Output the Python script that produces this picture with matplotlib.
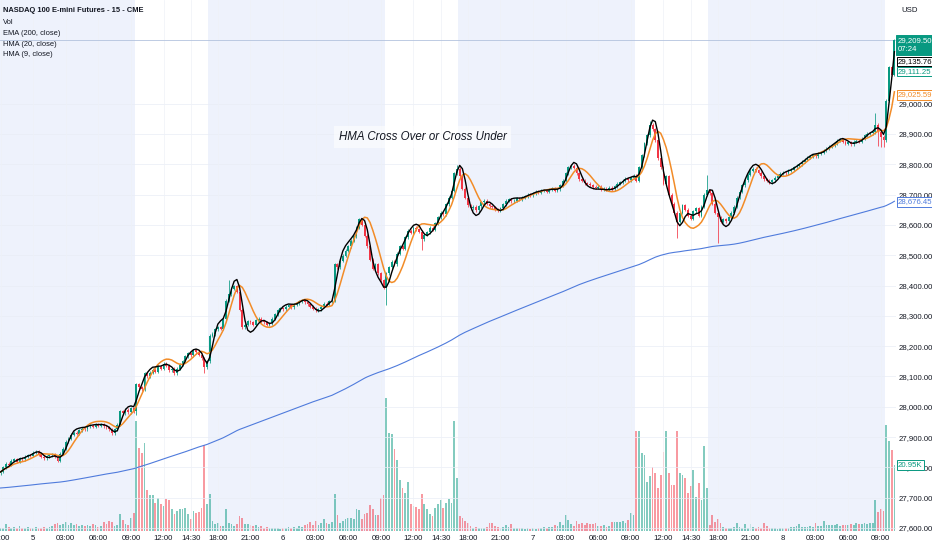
import numpy as np
import matplotlib
matplotlib.use("Agg")
import matplotlib.pyplot as plt
import matplotlib.transforms as mtransforms

# ---------------- data ----------------
open_first = 27780.0
closes = [
    27785, 27800, 27812, 27808, 27822, 27826, 27818, 27830, 27826, 27835,
    27840, 27838, 27848, 27852, 27843, 27835, 27830, 27836, 27840, 27843,
    27835, 27822, 27845, 27862, 27885, 27895, 27908, 27915, 27911, 27922,
    27928, 27925, 27935, 27938, 27934, 27940, 27937, 27942, 27936, 27932,
    27925, 27912, 27925, 27940, 27985, 27978, 27990, 27982, 27995, 27985,
    28075, 28065, 28058, 28110, 28100, 28112, 28122, 28115, 28132, 28125,
    28142, 28135, 28120, 28126, 28110, 28125, 28138, 28150, 28166, 28176,
    28170, 28186, 28180, 28172, 28160, 28130, 28150, 28235, 28240, 28255,
    28262, 28258, 28290, 28350, 28372, 28390, 28398, 28380, 28320, 28262,
    28270, 28282, 28278, 28270, 28285, 28290, 28282, 28278, 28270, 28275,
    28290, 28305, 28318, 28325, 28322, 28330, 28335, 28328, 28336, 28342,
    28348, 28352, 28345, 28338, 28330, 28324, 28318, 28322, 28330, 28340,
    28336, 28348, 28350, 28470, 28460, 28482, 28498, 28515, 28530, 28548,
    28562, 28590, 28618, 28600, 28565, 28530, 28485, 28455, 28470, 28440,
    28418, 28392, 28440, 28460, 28478, 28470, 28505, 28530, 28522, 28560,
    28580, 28574, 28590, 28586, 28578, 28552, 28568, 28575, 28590, 28584,
    28605, 28625, 28640, 28635, 28668, 28690, 28712, 28770, 28785, 28760,
    28720, 28690, 28665, 28655, 28660, 28648, 28662, 28675, 28680, 28670,
    28662, 28658, 28652, 28648, 28655, 28668, 28680, 28685, 28678, 28680,
    28688, 28684, 28690, 28695, 28700, 28697, 28705, 28710, 28706, 28712,
    28715, 28710, 28716, 28720, 28712, 28718, 28730, 28745, 28770, 28790,
    28795, 28788, 28770, 28750, 28745, 28738, 28735, 28730, 28725, 28722,
    28726, 28718, 28720, 28716, 28722, 28718, 28728, 28735, 28740, 28745,
    28752, 28748, 28756, 28762, 28745, 28790, 28830, 28870, 28895, 28930,
    28915, 28880, 28820, 28790, 28735, 28760, 28700, 28670, 28640, 28610,
    28640, 28665, 28650, 28630, 28620, 28645, 28655, 28630, 28660, 28700,
    28715, 28705, 28670, 28640, 28625, 28610, 28618, 28612, 28625, 28640,
    28660, 28690, 28710, 28730, 28748, 28765, 28778, 28785, 28780, 28772,
    28760, 28750, 28745, 28740, 28748, 28755, 28762, 28768, 28772, 28770,
    28778, 28782, 28790, 28795, 28800, 28808, 28815, 28822, 28826, 28830,
    28826, 28834, 28838, 28845, 28852, 28858, 28862, 28870, 28878, 28882,
    28875, 28868, 28872, 28866, 28874, 28878, 28875, 28885, 28895, 28900,
    28902, 28905, 28930, 28905, 28890, 28880, 29010, 29120, 29095, 29209.5,
]
volumes_k = [
    1.0, 0.8, 2.1, 1.2, 0.9, 1.4, 1.0, 1.7, 1.1, 0.9,
    1.3, 0.8, 1.0, 1.2, 0.9, 1.1, 1.4, 1.0, 1.2, 1.5,
    2.2, 2.6, 1.8, 2.3, 2.7, 2.0, 2.4, 1.9, 2.2, 1.6,
    2.0, 1.7, 1.9, 1.5, 2.1, 1.8, 1.4, 1.6, 3.0, 2.2,
    3.2, 2.8, 1.6, 2.0, 5.4, 3.6, 2.3, 1.9, 4.2, 5.8,
    34.8, 26.4, 24.8, 28.0, 12.9, 11.3, 11.3, 9.0, 10.6, 8.7,
    8.0, 10.3, 9.7, 7.1, 5.5, 6.4, 7.1, 7.1, 7.4, 5.5,
    3.9, 6.4, 5.8, 6.1, 7.4, 27.4, 8.7, 11.9, 3.2, 2.3,
    2.6, 1.6, 1.6, 7.1, 2.6, 2.3, 1.6, 2.3, 4.8, 4.2,
    2.3, 2.3, 1.8, 1.5, 1.9, 1.2, 1.6, 1.0, 1.3, 0.9,
    1.1, 0.8, 1.0, 0.7, 0.9, 0.8, 1.2, 1.0, 1.4, 1.1,
    1.6, 1.3, 1.8, 2.2, 2.9, 1.9, 3.2, 2.0, 2.4, 3.9,
    2.6, 2.2, 3.0, 11.9, 5.2, 2.6, 3.2, 3.9, 4.2, 4.2,
    3.9, 7.1, 6.8, 3.9, 5.5, 5.8, 8.4, 7.1, 5.2, 5.2,
    10.6, 11.3, 42.2, 31.2, 30.9, 26.1, 22.5, 16.1, 13.8, 12.2,
    15.5, 8.7, 8.0, 7.7, 7.1, 11.9, 8.7, 7.1, 5.5, 4.8,
    7.4, 8.7, 10.0, 7.4, 9.0, 10.3, 9.0, 34.8, 16.7, 4.8,
    4.2, 3.2, 2.6, 1.6, 1.0, 1.2, 0.9, 1.1, 0.8, 1.3,
    2.6, 2.4, 1.5, 1.2, 1.0, 1.4, 1.9, 1.2, 2.3, 1.1,
    0.9, 1.0, 0.8, 0.7, 0.9, 0.6, 0.8, 0.7, 1.0, 0.9,
    1.2, 1.0, 1.4, 1.3, 1.9, 1.5, 2.9, 2.0, 5.2, 3.5,
    2.3, 1.7, 3.2, 2.2, 2.6, 2.0, 2.4, 2.1, 2.3, 2.6,
    1.6, 1.5, 1.8, 1.4, 1.7, 2.9, 2.7, 3.0, 2.8, 3.1,
    2.6, 3.5, 5.8, 5.2, 31.6, 31.9, 24.8, 24.2, 15.5, 17.4,
    20.3, 18.4, 13.8, 17.7, 25.1, 31.9, 18.4, 14.5, 14.5, 31.9,
    18.4, 17.7, 16.7, 12.2, 14.2, 19.3, 10.9, 15.1, 9.7, 27.0,
    13.8, 1.9, 5.2, 3.0, 3.9, 2.6, 1.3, 0.8, 0.9, 1.0,
    1.2, 2.6, 1.3, 1.0, 2.3, 1.1, 2.3, 1.4, 1.0, 1.2,
    1.1, 2.6, 1.5, 0.9, 0.8, 0.9, 0.7, 0.8, 0.9, 1.1,
    1.0, 1.3, 1.2, 1.5, 2.3, 1.3, 1.4, 1.2, 1.6, 1.4,
    2.6, 1.5, 1.7, 3.2, 1.9, 2.0, 1.8, 1.9, 2.1, 1.7,
    1.8, 2.0, 1.9, 2.2, 1.9, 2.6, 2.3, 2.1, 2.4, 2.3,
    2.5, 2.4, 10.0, 6.1, 7.1, 6.4, 33.8, 28.7, 25.8, 20.95,
]
long_highs = {84: 28418, 168: 28797, 239: 28942, 260: 28765, 322: 28969}
long_lows = {50: 27973, 75: 28111, 142: 28336, 155: 28517, 249: 28557,
             264: 28540, 323: 28860, 324: 28857, 325: 28858}
wick = 5.0
ema_start = 27732.0

tick_bars = [0, 12, 24, 36, 48, 60, 70, 80, 92, 104, 116, 128, 140, 152, 162,
             172, 184, 196, 208, 220, 232, 244, 254, 264, 276, 288, 300, 312, 324]
tick_text = ["21:00", "5", "03:00", "06:00", "09:00", "12:00", "14:30", "18:00",
             "21:00", "6", "03:00", "06:00", "09:00", "12:00", "14:30", "18:00",
             "21:00", "7", "03:00", "06:00", "09:00", "12:00", "14:30", "18:00",
             "21:00", "8", "03:00", "06:00", "09:00"]
price_ticks = list(range(27600, 29001, 100))
rth_sessions = [(50, 76), (142, 168), (234, 260), (326, 329)]

countdown = "07:24"
hma9_label = 29135.76
teal_label = 29111.25
hma20_label = 29025.59
ema_label = 28676.45

legend_lines = ["NASDAQ 100 E-mini Futures - 15 - CME", "Vol", "EMA (200, close)",
                "HMA (20, close)", "HMA (9, close)"]
note_text = "HMA Cross Over or Cross Under"

# ---------------- indicators ----------------
c = np.array(closes, float)
n = len(c)
idx = np.arange(n)
o = np.concatenate([[open_first], c[:-1]])
hi = np.maximum(o, c) + wick
lo = np.minimum(o, c) - wick
for k, v in long_highs.items():
    hi[k] = max(hi[k], v)
for k, v in long_lows.items():
    lo[k] = min(lo[k], v)
up = c >= o


def wma(arr, p):
    out = np.empty(len(arr))
    for i in range(len(arr)):
        w = arr[max(0, i - p + 1):i + 1]
        wt = np.arange(1, len(w) + 1)
        out[i] = (w * wt).sum() / wt.sum()
    return out


def hma(arr, p):
    return wma(2 * wma(arr, p // 2) - wma(arr, p), int(np.sqrt(p)))


ema = np.empty(n)
alpha = 2.0 / (200 + 1)
prev = ema_start
for i in range(n):
    prev = prev if i == 0 else prev + alpha * (c[i] - prev)
    ema[i] = prev
hma20 = hma(c, 20)
hma9 = hma(c, 9)

# ---------------- drawing ----------------
plt.rcParams["font.family"] = ["Liberation Sans", "DejaVu Sans"]
TXT = "#131722"
UP = "#089981"
DN = "#F23645"
W, H = 932, 550
FS = 5.6

fig = plt.figure(figsize=(W / 100, H / 100), dpi=100, facecolor="white")
rect = [0, 19 / H, 896 / W, 531 / H]
ax_vol = fig.add_axes(rect)
ax = fig.add_axes(rect, sharex=ax_vol)
ax.patch.set_visible(False)

ax_vol.set_facecolor("#eef2fc")
for s, e in rth_sessions:
    ax_vol.axvspan(s - 0.5, e + 0.5, color="white", lw=0, zorder=0)

vcols = [(8 / 255, 153 / 255, 129 / 255, 0.5) if u else (242 / 255, 54 / 255, 69 / 255, 0.5) for u in up]
ax_vol.bar(idx, volumes_k, width=0.65, color=vcols, lw=0, zorder=2)
ax_vol.set_ylim(0, 168.6)
ax_vol.set_yticks([])
ax_vol.tick_params(axis="x", length=0, labelbottom=False)
for sp in ax_vol.spines.values():
    sp.set_visible(False)

# faint grid
for p in price_ticks:
    ax.axhline(p, color="#e9edf5", lw=0.5, zorder=0.5)
for b in tick_bars:
    ax.axvline(b, color="#eef1f7", lw=0.5, zorder=0.5)

ccols = [UP if u else DN for u in up]
ax.vlines(idx, lo, hi, colors=ccols, lw=0.55, zorder=3)
body = np.maximum(np.abs(c - o), 1.5)
ax.bar(idx, body, bottom=np.minimum(o, c), width=0.68, color=ccols, lw=0, zorder=3)

ax.plot(idx, ema, color="#4F7BDC", lw=0.8, zorder=4)
ax.plot(idx, hma20, color="#F28C28", lw=1.1, zorder=5)
ax.plot(idx, hma9, color="#000000", lw=1.0, zorder=6)
ax.axhline(c[-1], color="#b3c3de", lw=0.6, zorder=2)

ax.set_xlim((0 - 0.5) / 2.717, (896 - 0.5) / 2.717)
ax.set_ylim(27600 - 3 * 3.2992, 27600 + 528 * 3.2992)
ax.yaxis.tick_right()
ax.set_yticks(price_ticks)
ax.set_yticklabels([f"{p:,.2f}" for p in price_ticks])
ax.tick_params(axis="y", length=0, pad=2.2, labelsize=FS, labelcolor=TXT)
ax.set_xticks(tick_bars)
ax.set_xticklabels(tick_text)
ax.tick_params(axis="x", length=0, pad=3, labelsize=FS, labelcolor=TXT)
for sp in ax.spines.values():
    sp.set_visible(False)

# annotation
ax.text((339 - 0.5) / 2.717, 27600 + (528 - 137) * 3.2992, note_text, style="italic",
        fontsize=8.3, color=TXT, va="center", ha="left", zorder=8,
        bbox=dict(boxstyle="square,pad=0.4", fc="white", ec="none", alpha=0.55))

# right-side value labels
tr = mtransforms.blended_transform_factory(fig.transFigure, ax.transData)
trv = mtransforms.blended_transform_factory(fig.transFigure, ax_vol.transData)
xl = 898 / W


def plabel(val, text, fc, ec, tc, transform=tr, dy=0):
    t = mtransforms.offset_copy(transform, fig=fig, y=dy, units="dots")
    ax.text(xl, val, text, transform=t, ha="left", va="center", fontsize=FS,
            color=tc, zorder=30, clip_on=False,
            bbox=dict(boxstyle="square,pad=0.18", fc=fc, ec=ec, lw=0.7))


plabel(ema_label, f"{ema_label:,.2f}", "white", "#4F7BDC", "#4F7BDC")
plabel(hma20_label, f"{hma20_label:,.2f}", "white", "#F28C28", "#F28C28", dy=1)
plabel(teal_label, f"{teal_label:,.2f}", "white", UP, UP, dy=-1.5)
plabel(hma9_label, f"{hma9_label:,.2f}", "white", "#000000", "#000000", dy=1)
plabel(volumes_k[-1], f"{volumes_k[-1]:.2f}K", "white", UP, UP, transform=trv)
off = mtransforms.offset_copy(tr, fig=fig, y=-5, units="dots")
ax.text(xl, c[-1], f"{c[-1]:,.2f}\n{countdown}", transform=off, ha="left", va="center",
        fontsize=FS, color="white", zorder=31, clip_on=False, linespacing=1.4,
        bbox=dict(boxstyle="square,pad=0.3", fc=UP, ec=UP, lw=0.7))

fig.text(901 / W, 1 - 11 / H, "USD", fontsize=FS, color=TXT, va="center", ha="left")

# legend
ys = [11.0, 22.2, 33.3, 44.0, 54.6]
for k, (t, y) in enumerate(zip(legend_lines, ys)):
    fig.text(3 / W, 1 - y / H, t, fontsize=5.4, color=TXT, va="center", ha="left",
             fontweight="bold" if k == 0 else "normal")

fig.savefig("out.png", dpi=100, facecolor="white")
